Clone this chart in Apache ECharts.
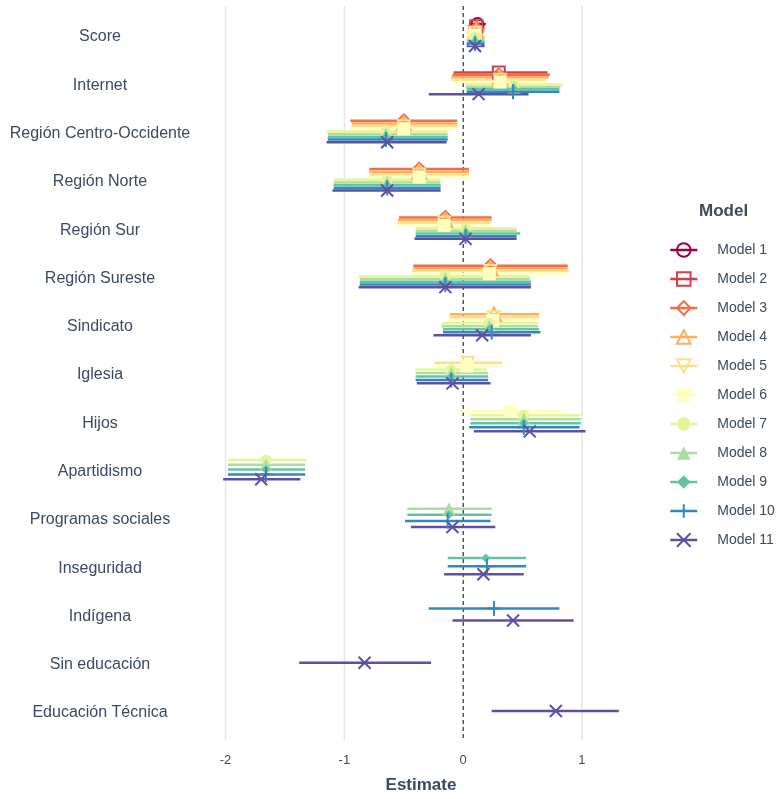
<!DOCTYPE html>
<html>
<head>
<meta charset="utf-8">
<script src="https://cdn.jsdelivr.net/npm/echarts@6/dist/echarts.min.js"></script>
<style>
  html, body { margin: 0; padding: 0; background: #ffffff; }
  #chart { width: 779px; height: 799px; }
</style>
</head>
<body>
<div id="chart"></div>
<script>
// Regression terms, top to bottom
const variables = [
  'Score', 'Internet', 'Región Centro-Occidente', 'Región Norte', 'Región Sur',
  'Región Sureste', 'Sindicato', 'Iglesia', 'Hijos', 'Apartidismo',
  'Programas sociales', 'Inseguridad', 'Indígena', 'Sin educación', 'Educación Técnica'
];

const models = ['Model 1', 'Model 2', 'Model 3', 'Model 4', 'Model 5', 'Model 6',
  'Model 7', 'Model 8', 'Model 9', 'Model 10', 'Model 11'];

// Point estimates per model (missing entries = term not in the model)
const estimate = [
  [0.12],
  [0.11, 0.30],
  [0.11, 0.30, -0.50, -0.37, -0.15, 0.23],
  [0.11, 0.31, -0.50, -0.37, -0.15, 0.23, 0.26],
  [0.10, 0.31, -0.50, -0.37, -0.16, 0.23, 0.26, 0.04],
  [0.10, 0.31, -0.50, -0.37, -0.16, 0.22, 0.25, 0.03, 0.40],
  [0.10, 0.43, -0.65, -0.64, 0.02, -0.15, 0.22, -0.10, 0.51, -1.66],
  [0.10, 0.43, -0.65, -0.64, 0.02, -0.15, 0.22, -0.10, 0.51, -1.66, -0.12],
  [0.10, 0.43, -0.65, -0.64, 0.03, -0.15, 0.22, -0.10, 0.51, -1.66, -0.12, 0.19],
  [0.10, 0.42, -0.65, -0.64, 0.02, -0.15, 0.24, -0.10, 0.51, -1.66, -0.13, 0.20, 0.26],
  [0.10, 0.13, -0.64, -0.64, 0.02, -0.15, 0.16, -0.09, 0.56, -1.70, -0.09, 0.17, 0.42, -0.83, 0.78]
];

// Lower confidence bounds
const ciLow = [
  [0.05],
  [0.04, -0.08],
  [0.04, -0.09, -0.95, -0.79, -0.54, -0.42],
  [0.04, -0.10, -0.94, -0.79, -0.55, -0.42, -0.11],
  [0.03, -0.10, -0.94, -0.79, -0.55, -0.43, -0.11, -0.24],
  [0.03, -0.09, -0.95, -0.80, -0.56, -0.44, -0.12, -0.25, -0.05],
  [0.03, 0.02, -1.15, -1.09, -0.40, -0.88, -0.18, -0.40, 0.06, -1.98],
  [0.03, 0.02, -1.14, -1.09, -0.40, -0.87, -0.18, -0.40, 0.06, -1.98, -0.47],
  [0.03, 0.03, -1.14, -1.09, -0.40, -0.87, -0.17, -0.40, 0.06, -1.98, -0.47, -0.13],
  [0.03, 0.03, -1.14, -1.09, -0.40, -0.87, -0.17, -0.40, 0.05, -1.98, -0.49, -0.13, -0.29],
  [0.03, -0.29, -1.15, -1.10, -0.41, -0.88, -0.25, -0.39, 0.09, -2.02, -0.44, -0.16, -0.09, -1.38, 0.24]
];

// Upper confidence bounds
const ciHigh = [
  [0.19],
  [0.18, 0.71],
  [0.18, 0.73, -0.05, 0.05, 0.24, 0.88],
  [0.18, 0.72, -0.05, 0.05, 0.24, 0.88, 0.64],
  [0.18, 0.70, -0.04, 0.05, 0.23, 0.89, 0.64, 0.33],
  [0.18, 0.70, -0.03, 0.06, 0.23, 0.89, 0.65, 0.33, 0.85],
  [0.18, 0.84, -0.13, -0.19, 0.45, 0.56, 0.63, 0.20, 0.99, -1.32],
  [0.18, 0.82, -0.13, -0.19, 0.45, 0.56, 0.63, 0.21, 0.99, -1.33, 0.24],
  [0.18, 0.81, -0.13, -0.19, 0.48, 0.57, 0.64, 0.21, 0.99, -1.33, 0.24, 0.53],
  [0.18, 0.81, -0.13, -0.19, 0.45, 0.57, 0.65, 0.21, 0.98, -1.33, 0.23, 0.53, 0.81],
  [0.18, 0.55, -0.14, -0.19, 0.45, 0.57, 0.57, 0.23, 1.03, -1.37, 0.27, 0.51, 0.93, -0.27, 1.31]
];

const xTicks = [-2, -1, 0, 1];

// Spectral palette, one colour per model
const modelColors = ['#9E0142', '#D53E4F', '#F46D43', '#FDAE61', '#FEE08B', '#FFFFBF',
  '#E6F598', '#ABDDA4', '#66C2A5', '#3288BD', '#5E4FA2'];

const markerShape = [
  'circle', 'rect', 'diamond', 'triangle', 'path://M0,0L10,0L5,8.66Z', 'rect',
  'circle', 'triangle', 'diamond', 'path://M5,0L5,10M0,5L10,5', 'path://M0,0L10,10M10,0L0,10'
];
const markerSize = [12, 12, 13, 14, 12, 13, 11, 13, 9, 15, 12];
const markerOpen = [true, true, true, true, true, false, false, false, false, true, true];

const TEXT = '#3b4b5d';
const FONT = '"Liberation Sans", Arial, Helvetica, sans-serif';
const DODGE = 0.5;

// Vertical dodging: models sharing a term are spread across half a row
function dodgedRows() {
  const rows = models.map(() => []);
  variables.forEach((v, vi) => {
    const present = [];
    models.forEach((m, mi) => {
      const e = estimate[mi][vi];
      if (e !== undefined && e !== null) present.push(mi);
    });
    const n = present.length;
    present.forEach((mi, k) => {
      const y = vi - DODGE / 2 + DODGE * (k + 0.5) / n;
      rows[mi].push({ vi, y, est: estimate[mi][vi], lo: ciLow[mi][vi], hi: ciHigh[mi][vi] });
    });
  });
  return rows;
}

const rows = dodgedRows();

const pointSeries = models.map((name, mi) => {
  const c = modelColors[mi];
  const item = markerOpen[mi]
    ? { color: 'none', borderColor: c, borderWidth: 2 }
    : { color: c, borderWidth: 0 };
  return {
    type: 'line',
    name,
    z: 3,
    data: rows[mi].map(r => [r.est, r.y]),
    symbol: markerShape[mi],
    symbolSize: markerSize[mi],
    showSymbol: true,
    lineStyle: { width: 0, color: c },
    itemStyle: item,
    emphasis: { disabled: true },
    silent: true
  };
});

const whiskerSeries = models.map((name, mi) => {
  const c = modelColors[mi];
  return {
    type: 'custom',
    name,
    z: 2,
    silent: true,
    data: rows[mi].map(r => [r.lo, r.hi, r.y]),
    encode: { x: [0, 1], y: 2 },
    renderItem: function (params, api) {
      const y = api.value(2);
      const a = api.coord([api.value(0), y]);
      const b = api.coord([api.value(1), y]);
      return {
        type: 'line',
        shape: { x1: a[0], y1: a[1], x2: b[0], y2: b[1] },
        style: { stroke: c, lineWidth: 2.5 }
      };
    }
  };
});

// Reference lines at the x ticks; the zero line is dashed
const refSeries = {
  type: 'custom',
  name: 'ref',
  z: 1,
  silent: true,
  data: xTicks.map(t => [t]),
  encode: { x: 0 },
  renderItem: function (params, api) {
    const x = api.value(0);
    const top = api.coord([x, -0.6]);
    const bottom = api.coord([x, variables.length - 1 + 0.6]);
    const isZero = x === 0;
    return {
      type: 'line',
      shape: { x1: top[0], y1: top[1], x2: bottom[0], y2: bottom[1] },
      style: isZero
        ? { stroke: '#000000', lineWidth: 1, lineDash: [4, 3] }
        : { stroke: '#e6e6e6', lineWidth: 1.5 }
    };
  }
};

const chart = echarts.init(document.getElementById('chart'), null, { renderer: 'canvas' });
chart.setOption({
  animation: false,
  backgroundColor: '#ffffff',
  textStyle: { fontFamily: FONT },
  title: {
    text: 'Model',
    left: 699,
    top: 203,
    padding: 0,
    textStyle: { fontSize: 17, fontWeight: 'bold', color: TEXT, fontFamily: FONT }
  },
  legend: {
    data: models,
    orient: 'vertical',
    left: 669,
    top: 239,
    padding: 0,
    itemWidth: 27,
    itemHeight: 17,
    itemGap: 7,
    lineStyle: { width: 2.5 },
    textStyle: { fontSize: 14, lineHeight: 22, color: TEXT, fontFamily: FONT, padding: [0, 0, 0, 15] },
    selectedMode: false
  },
  grid: { left: 203, right: 140, top: 6, bottom: 58, containLabel: false },
  xAxis: {
    type: 'value',
    min: -2.19,
    max: 1.48,
    name: 'Estimate',
    nameLocation: 'middle',
    nameGap: 37,
    nameTextStyle: { fontSize: 17, fontWeight: 'bold', color: TEXT, fontFamily: FONT },
    axisLine: { show: false },
    axisTick: { show: false },
    splitLine: { show: false },
    axisLabel: {
      customValues: xTicks,
      fontSize: 13,
      color: TEXT,
      margin: 14,
      fontFamily: FONT
    }
  },
  yAxis: {
    type: 'value',
    inverse: true,
    min: -0.6,
    max: variables.length - 1 + 0.6,
    axisLine: { show: false },
    axisTick: { show: false },
    splitLine: { show: false },
    axisLabel: {
      customValues: variables.map((v, i) => i),
      formatter: function (v) { return '{t|' + variables[Math.round(v)] + '}'; },
      rich: { t: { fontSize: 16, color: TEXT, fontFamily: FONT, padding: [4, 0, 0, 0] } },
      align: 'center',
      margin: 103,
      fontSize: 16,
      color: TEXT,
      fontFamily: FONT
    }
  },
  series: [].concat(pointSeries, whiskerSeries, [refSeries])
});
</script>
</body>
</html>
